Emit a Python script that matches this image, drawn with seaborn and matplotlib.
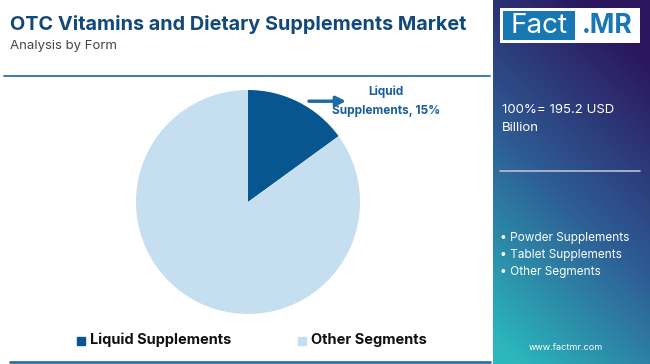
import numpy as np
import matplotlib.pyplot as plt
import seaborn as sns
from matplotlib.patches import Rectangle

# data
segments = ["Liquid Supplements", "Other Segments"]
shares = [15, 85]
seg_colors = ["#08568f", "#c6dff0"]
total_label = "100%= 195.2 USD\nBillion"
other_forms = ["Powder Supplements", "Tablet Supplements", "Other Segments"]

sns.set_theme(style="white")
plt.rcParams["font.family"] = ["Inter", "DejaVu Sans"]

W, H = 650, 364
fig = plt.figure(figsize=(W / 100, H / 100), dpi=100)
fig.patch.set_facecolor("white")

def fx(x):
    return x / W

def fy(y):
    return 1 - y / H

# title block
fig.text(fx(10), fy(25), "OTC Vitamins and Dietary Supplements Market", fontsize=14.3,
         fontweight="bold", color="#13497a", va="center", ha="left")
fig.text(fx(10), fy(46), "Analysis by Form", fontsize=9.5, color="#444444", va="center", ha="left")
fig.add_artist(plt.Line2D([fx(4), fx(490)], [fy(76), fy(76)], color="#2f6fa8", lw=1.3))
fig.add_artist(plt.Line2D([fx(10), fx(490)], [fy(362), fy(362)], color="#2f6fa8", lw=2))

# pie
ax = fig.add_axes([fx(136), fy(314), fx(224), 224 / H])
wedges, _ = ax.pie(shares, colors=seg_colors, startangle=90, counterclock=False,
                   wedgeprops=dict(linewidth=0))
ax.set_xlim(-1, 1)
ax.set_ylim(-1, 1)
ax.set_aspect("equal")
ax.annotate("", xy=(0.9, 0.9), xytext=(0.52, 0.9),
            arrowprops=dict(arrowstyle="-|>", color="#1f6aa8", lw=2.5, mutation_scale=14),
            annotation_clip=False)
ax.text(1.23, 0.9, "Liquid\nSupplements, 15%", fontsize=8.5, fontweight="bold",
        color="#1a5c9c", ha="center", va="center", linespacing=1.75, clip_on=False)

# legend
for i, (name, c) in enumerate(zip(segments, seg_colors)):
    x0 = [77, 298][i]
    fig.add_artist(Rectangle((fx(x0), fy(345)), fx(8), 8 / H, color=c))
    fig.text(fx(x0 + 13), fy(340), name, fontsize=10.5, fontweight="bold",
             color="#111111", va="center", ha="left")

# right panel gradient
pax = fig.add_axes([fx(493), 0, fx(W - 493), 1])
ny, nx = 200, 80
yy, xx = np.mgrid[0:1:ny * 1j, 0:1:nx * 1j]
t = np.clip(0.85 * yy - 0.35 * xx + 0.2, 0, 1)
top = np.array([0.17, 0.09, 0.37])
mid = np.array([0.18, 0.36, 0.58])
bot = np.array([0.17, 0.72, 0.74])
img = np.where(t[..., None] < 0.5,
               top + (mid - top) * (t[..., None] / 0.5),
               mid + (bot - mid) * ((t[..., None] - 0.5) / 0.5))
pax.imshow(img, aspect="auto", extent=[0, 1, 0, 1], origin="upper")
pax.set_axis_off()

# logo
fig.add_artist(Rectangle((fx(500), fy(43)), fx(140), 35 / H, facecolor="white", edgecolor="none"))
fig.add_artist(Rectangle((fx(503), fy(40)), fx(72), 29 / H, facecolor="#1878b4", edgecolor="none"))
fig.text(fx(539), fy(26), "Fact", fontsize=20, color="white", ha="center", va="center")
fig.text(fx(607), fy(26), ".MR", fontsize=19, color="#1878b4", fontweight="bold",
         ha="center", va="center")

fig.text(fx(502), fy(119), total_label, fontsize=9.5, color="white", va="center",
         ha="left", linespacing=1.6)
fig.add_artist(plt.Line2D([fx(500), fx(640)], [fy(171), fy(171)], color="#b8c0d8", lw=1.2))
for i, name in enumerate(other_forms):
    fig.text(fx(500), fy(238 + 17 * i), "\u2022 " + name, fontsize=8.5, color="white",
             va="center", ha="left")
fig.text(fx(566), fy(348), "www.factmr.com", fontsize=6.5, color="white",
         va="center", ha="center")

fig.savefig("out.png", dpi=100, facecolor="white")
